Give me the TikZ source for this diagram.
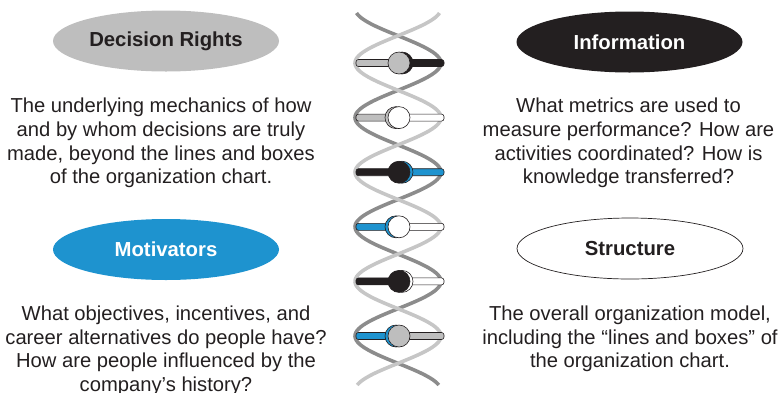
\documentclass[tikz,border=0pt]{standalone}
\usepackage{fontspec}
\setmainfont{Liberation Sans}
\usetikzlibrary{shapes.geometric}
\definecolor{inkblack}{HTML}{231F20}
\definecolor{capgray}{HTML}{BEBEBE}
\definecolor{capblue}{HTML}{1E93CF}
\definecolor{stranddark}{HTML}{8C8C8C}
\definecolor{strandlight}{HTML}{C6C6C6}
\tikzset{
  heading/.style={ellipse, minimum width=226pt, minimum height=61pt, inner sep=0pt,
    font=\fontsize{20.3}{24}\selectfont\bfseries},
  blurb/.style={align=center, inner sep=0pt, anchor=north, text=inkblack,
    font=\fontsize{20.2}{23.8}\selectfont},
  strand/.style={line width=3.6pt},
  rungbar/.style={draw=inkblack, line width=0.6pt},
}
% one rung: y, left colour, right colour, ball colour, shade colour, shade shift
\newcommand{\helixrung}[6]{
  \draw[rungbar, fill=#2, rounded corners=2.5pt] (356,#1-3.5) rectangle (400,#1+3.5);
  \draw[rungbar, fill=#3, rounded corners=2.5pt] (398,#1-3.5) rectangle (444,#1+3.5);
  \draw[rungbar, fill=#5] (399+#6,#1) circle (11pt);
  \draw[rungbar, fill=#4] (399,#1) circle (11pt);
}
\begin{document}
\begin{tikzpicture}[x=1pt, y=-1pt]
  \useasboundingbox (0,0) rectangle (782,392);
  % labels
  \node[heading, fill=capgray, text=inkblack] (dr) at (166,41) {Decision Rights};
  \node[heading, fill=inkblack, text=white] (inf) at (629.5,42) {Information};
  \node[heading, fill=capblue, text=white] (mot) at (166,249.5) {Motivators};
  \node[heading, draw=inkblack, line width=0.7pt, fill=white, text=inkblack] (str) at (630,248.5) {Structure};
  % texts
  \node[blurb] (drtext) at (161,97.6) {The underlying mechanics of how\\and by whom decisions are truly\\made, beyond the lines and boxes\\of the organization chart.};
  \node[blurb] (inftext) at (628.5,97.6) {What metrics are used to\\measure performance? How are\\activities coordinated? How is\\knowledge transferred?};
  \node[blurb] (mottext) at (166,305.5) {What objectives, incentives, and\\career alternatives do people have?\\How are people influenced by the\\company’s history?};
  \node[blurb] (strtext) at (630,305.5) {The overall organization model,\\including the “lines and boxes” of\\the organization chart.};
  % helix
  \draw[strand, stranddark] plot[domain=13:385, samples=200, smooth, variable=\t]
    ({398+43*sin((\t-35.7)/54.6*180)}, \t);
  \draw[strand, strandlight] plot[domain=13:385, samples=200, smooth, variable=\t]
    ({398-43*sin((\t-35.7)/54.6*180)}, \t);
  \helixrung{63}{capgray}{inkblack}{capgray}{inkblack}{3}
  \helixrung{117.6}{capgray}{white}{white}{capgray}{-3}
  \helixrung{172.2}{inkblack}{capblue}{inkblack}{capblue}{3}
  \helixrung{226.8}{capblue}{white}{white}{capblue}{-3}
  \helixrung{281.4}{inkblack}{white}{inkblack}{white}{3}
  \helixrung{336}{capblue}{capgray}{capgray}{capblue}{-3}
\end{tikzpicture}
\end{document}
